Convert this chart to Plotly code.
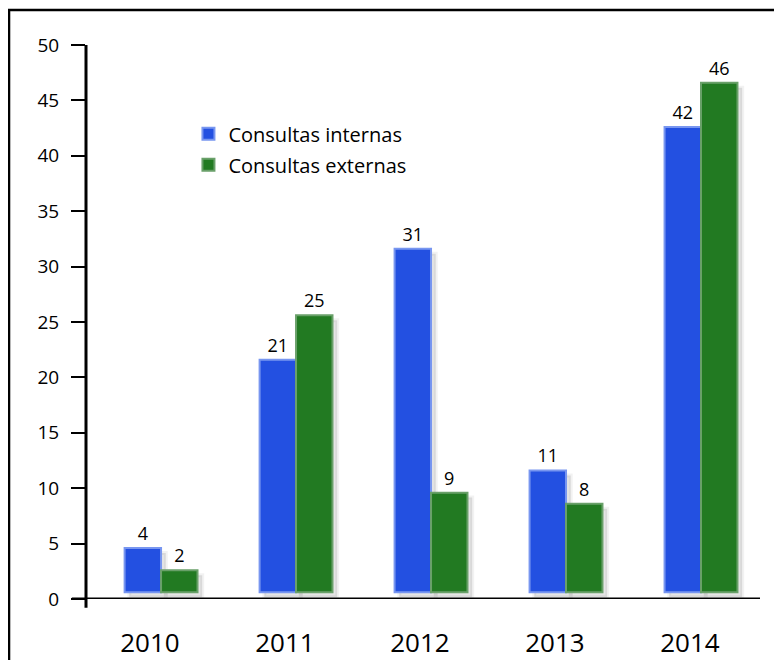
import plotly.graph_objects as go

years = ["2010", "2011", "2012", "2013", "2014"]
internas = [4, 21, 31, 11, 42]
externas = [2, 25, 9, 8, 46]
y_ticks = [0, 5, 10, 15, 20, 25, 30, 35, 40, 45, 50]

BLUE = "rgb(35,80,225)"
BLUE_EDGE = "rgb(120,150,240)"
GREEN = "rgb(34,122,34)"
GREEN_EDGE = "rgb(105,160,105)"
SHADOW = "rgba(0,0,0,0.10)"
FONT = "Open Sans"
BASE = 0.6
W = 0.27
SHIFT = 0.082  # bars sit slightly right of the year labels

fig = go.Figure()
xi = list(range(len(years)))

# soft drop shadows (same data, drawn slightly offset)
for vals, off in ((internas, -W), (externas, 0.0)):
    fig.add_trace(go.Bar(x=xi, y=vals, base=BASE - 0.45, offset=off + SHIFT + 0.035, width=W,
                         marker=dict(color=SHADOW, line=dict(color="rgba(0,0,0,0.05)", width=4)),
                         showlegend=False, hoverinfo="skip"))

fig.add_trace(go.Bar(name="Consultas internas", x=xi, y=internas, base=BASE,
                     offset=-W + SHIFT, width=W,
                     marker=dict(color=BLUE, line=dict(color=BLUE_EDGE, width=2)),
                     text=[str(v) for v in internas], textposition="outside",
                     textfont=dict(size=18, color="black", family=FONT), cliponaxis=False,
                     legendgroup="a"))
fig.add_trace(go.Bar(name="Consultas externas", x=xi, y=externas, base=BASE,
                     offset=SHIFT, width=W,
                     marker=dict(color=GREEN, line=dict(color=GREEN_EDGE, width=2)),
                     text=[str(v) for v in externas], textposition="outside",
                     textfont=dict(size=18, color="black", family=FONT), cliponaxis=False,
                     legendgroup="b"))

fig.update_layout(
    width=774, height=652,
    margin=dict(l=78, r=22, t=37, b=61, autoexpand=False),
    paper_bgcolor="white", plot_bgcolor="white",
    font=dict(family=FONT, color="black"),
    barmode="overlay",
    showlegend=True,
    legend=dict(x=0.152, y=0.875, xanchor="left", yanchor="top",
                font=dict(size=20, family=FONT, color="black"),
                bgcolor="rgba(0,0,0,0)", tracegroupgap=2, traceorder="grouped"),
    xaxis=dict(range=[-0.474, 4.519], tickmode="array", tickvals=xi, ticktext=years,
               showgrid=False, zeroline=False, showline=False, ticks="", automargin=False,
               tickfont=dict(size=26, family=FONT, color="black"), ticklabelstandoff=26),
    yaxis=dict(range=[0, 50], tickmode="array", tickvals=y_ticks, automargin=False,
               showgrid=False, zeroline=False, showline=False,
               ticks="outside", ticklen=14, tickwidth=2, tickcolor="black",
               tickfont=dict(size=19, family=FONT, color="black"), ticklabelstandoff=8),
    shapes=[
        dict(type="line", xref="x domain", yref="paper", x0=0, x1=0, y0=-0.016, y1=1.0,
             line=dict(color="black", width=3)),
        dict(type="line", xref="paper", yref="y", x0=-0.021, x1=1.0, y0=0, y1=0,
             line=dict(color="black", width=3)),
        dict(type="rect", xref="paper", yref="paper", x0=-0.1142, x1=1.05, y0=-0.14, y1=1.0632,
             line=dict(color="black", width=2.5), fillcolor="rgba(0,0,0,0)", layer="below"),
    ],
)

fig.write_html("out.html")
